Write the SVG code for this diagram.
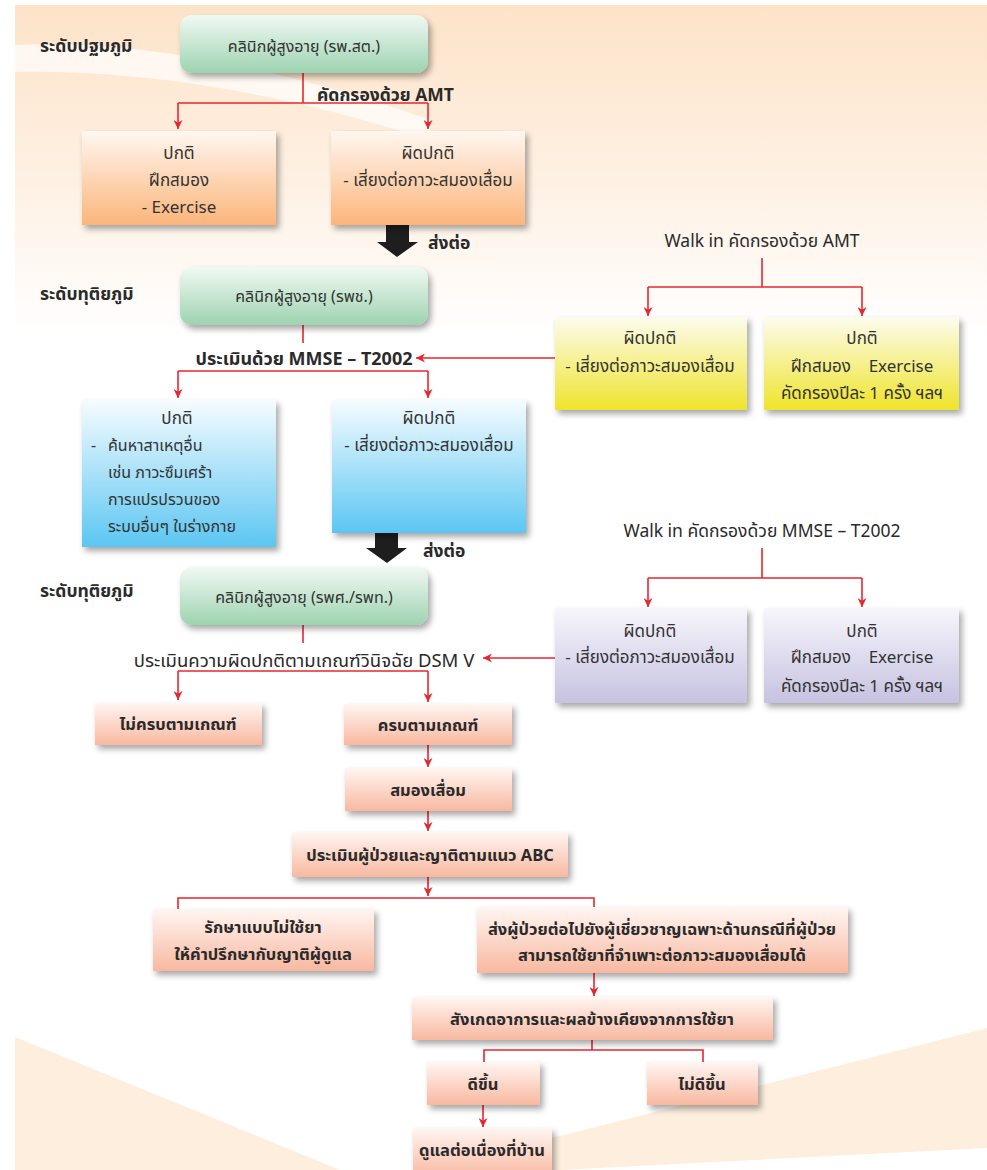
<svg xmlns="http://www.w3.org/2000/svg" width="987" height="1170" viewBox="0 0 987 1170">
  <defs>
    <linearGradient id="bgTop" x1="0" y1="0" x2="0" y2="1">
      <stop offset="0" stop-color="#fde3c8"/>
      <stop offset="0.55" stop-color="#fef1e4"/>
      <stop offset="1" stop-color="#ffffff"/>
    </linearGradient>
    <linearGradient id="gGreen" x1="0" y1="0" x2="0" y2="1">
      <stop offset="0" stop-color="#f1f9f4"/>
      <stop offset="1" stop-color="#9dd3b0"/>
    </linearGradient>
    <linearGradient id="gOrange" x1="0" y1="0" x2="0" y2="1">
      <stop offset="0" stop-color="#fff7f0"/>
      <stop offset="1" stop-color="#fbb57b"/>
    </linearGradient>
    <linearGradient id="gBlue" x1="0" y1="0" x2="0" y2="1">
      <stop offset="0" stop-color="#f6fcff"/>
      <stop offset="1" stop-color="#5bc6f2"/>
    </linearGradient>
    <linearGradient id="gYellow" x1="0" y1="0" x2="0" y2="1">
      <stop offset="0" stop-color="#fcfcee"/>
      <stop offset="1" stop-color="#efe42b"/>
    </linearGradient>
    <linearGradient id="gLav" x1="0" y1="0" x2="0" y2="1">
      <stop offset="0" stop-color="#f7f6fb"/>
      <stop offset="1" stop-color="#c6c2e1"/>
    </linearGradient>
    <linearGradient id="gSalmon" x1="0" y1="0" x2="0" y2="1">
      <stop offset="0" stop-color="#fff6f2"/>
      <stop offset="1" stop-color="#f8b8a0"/>
    </linearGradient>
    <filter id="shadow" x="-10%" y="-10%" width="130%" height="140%">
      <feDropShadow dx="3" dy="4" stdDeviation="3" flood-color="#000" flood-opacity="0.35"/>
    </filter>
    <marker id="arrow" viewBox="0 0 10 10" refX="10" refY="5" markerWidth="9" markerHeight="9" markerUnits="userSpaceOnUse" orient="auto">
      <path d="M0,0 L10,5 L0,10 L3,5 Z" fill="#e8262f"/>
    </marker>
    <style>
      text { font-family: "Noto Sans Thai", "Noto Sans", "DejaVu Sans", sans-serif; fill: #333; }
      .c { font-size: 16px; text-anchor: middle; }
      .t { font-size: 17px; text-anchor: middle; }
      .tl { font-size: 16px; }
      .b { font-size: 16.5px; text-anchor: middle; font-weight: bold; fill: #2a2a2a; }
      .lvl { font-size: 17.5px; font-weight: bold; fill: #2a2a2a; }
      .lab { font-size: 17.5px; font-weight: bold; fill: #2a2a2a; }
      .labm { font-size: 18px; font-weight: bold; fill: #2a2a2a; text-anchor: middle; }
      .labc { font-size: 17.5px; text-anchor: middle; fill: #2a2a2a; }
      .labr { font-size: 18.5px; text-anchor: middle; fill: #2a2a2a; }
      .ln { stroke: #e8262f; stroke-width: 1.6; fill: none; }
      .box { filter: url(#shadow); }
    </style>
  </defs>

  <!-- page background -->
  <rect x="0" y="0" width="987" height="1170" fill="#ffffff"/>
  <rect x="15" y="5" width="972" height="330" fill="url(#bgTop)"/>
  <path d="M15,45 C120,40 260,60 430,120 L430,140 C260,85 120,70 15,72 Z" fill="#ffffff" opacity="0.7"/>
  <path d="M15,1037 L340,1170 L15,1170 Z" fill="#fdeede"/>
  <path d="M552,1138 L987,1028 L987,1148 L560,1170 L540,1170 Z" fill="#fdeede"/>

  <!-- level labels -->
  <text class="lvl" x="40" y="52">ระดับปฐมภูมิ</text>
  <text class="lvl" x="40" y="300">ระดับทุติยภูมิ</text>
  <text class="lvl" x="40" y="597">ระดับทุติยภูมิ</text>

  <!-- connectors -->
  <g id="connectors">
    <path class="ln" d="M303,73 V103"/>
    <path class="ln" d="M178,103 H428"/>
    <path class="ln" d="M178,103 V129" marker-end="url(#arrow)"/>
    <path class="ln" d="M428,103 V129" marker-end="url(#arrow)"/>

    <path class="ln" d="M303,325 V343"/>
    <path class="ln" d="M178,371 H428"/>
    <path class="ln" d="M178,371 V398" marker-end="url(#arrow)"/>
    <path class="ln" d="M428,371 V398" marker-end="url(#arrow)"/>
    <path class="ln" d="M555,358 H416" marker-end="url(#arrow)"/>

    <path class="ln" d="M762,258 V287"/>
    <path class="ln" d="M648,287 H862"/>
    <path class="ln" d="M648,287 V316" marker-end="url(#arrow)"/>
    <path class="ln" d="M862,287 V316" marker-end="url(#arrow)"/>

    <path class="ln" d="M762,548 V578"/>
    <path class="ln" d="M648,578 H862"/>
    <path class="ln" d="M648,578 V607" marker-end="url(#arrow)"/>
    <path class="ln" d="M862,578 V607" marker-end="url(#arrow)"/>

    <path class="ln" d="M303,625 V643"/>
    <path class="ln" d="M178,671 H428"/>
    <path class="ln" d="M178,671 V700" marker-end="url(#arrow)"/>
    <path class="ln" d="M428,671 V702" marker-end="url(#arrow)"/>
    <path class="ln" d="M555,658 H483" marker-end="url(#arrow)"/>

    <path class="ln" d="M428,745 V767" marker-end="url(#arrow)"/>
    <path class="ln" d="M428,811 V831" marker-end="url(#arrow)"/>
    <path class="ln" d="M428,877 V896" marker-end="url(#arrow)"/>
    <path class="ln" d="M178,909 V898 H594 V907"/>
    <path class="ln" d="M594,973 V996" marker-end="url(#arrow)"/>
    <path class="ln" d="M592,1040 V1050"/>
    <path class="ln" d="M484,1062 V1050 H703 V1062"/>
    <path class="ln" d="M483,1105 V1127" marker-end="url(#arrow)"/>

    <!-- referral arrows -->
    <path d="M386,225 H409 V242 H418 L397,257 L377,242 H386 Z" fill="#1e1e1e"/>
    <path d="M375,533 H398 V548 H407 L387,563 L366,548 H375 Z" fill="#1e1e1e"/>
  </g>

  <!-- connector labels -->
  <text class="lab" x="317" y="101">คัดกรองด้วย AMT</text>
  <text class="lab" x="428" y="249">ส่งต่อ</text>
  <text class="labm" x="304" y="365">ประเมินด้วย MMSE – T2002</text>
  <text class="lab" x="423" y="557">ส่งต่อ</text>
  <text class="labr" x="304" y="667">ประเมินความผิดปกติตามเกณฑ์วินิจฉัย DSM V</text>
  <text class="labc" x="762" y="247">Walk in คัดกรองด้วย AMT</text>
  <text class="labc" x="762" y="537">Walk in คัดกรองด้วย MMSE – T2002</text>

  <!-- primary clinic -->
  <g id="clinic-primary">
    <rect class="box" x="180" y="15" width="248" height="58" rx="12" fill="url(#gGreen)"/>
    <text class="c" x="304" y="52">คลินิกผู้สูงอายุ (รพ.สต.)</text>
  </g>
  <g id="amt-normal">
    <rect class="box" x="82" y="131" width="194" height="94" fill="url(#gOrange)"/>
    <text class="t" x="179" y="159">ปกติ</text>
    <text class="t" x="179" y="186">ฝึกสมอง</text>
    <text class="t" x="179" y="213">- Exercise</text>
  </g>
  <g id="amt-abnormal">
    <rect class="box" x="331" y="131" width="194" height="94" fill="url(#gOrange)"/>
    <text class="t" x="428" y="159">ผิดปกติ</text>
    <text class="t" x="428" y="186">- เสี่ยงต่อภาวะสมองเสื่อม</text>
  </g>

  <!-- community hospital clinic -->
  <g id="clinic-community">
    <rect class="box" x="180" y="267" width="248" height="58" rx="12" fill="url(#gGreen)"/>
    <text class="c" x="304" y="302">คลินิกผู้สูงอายุ (รพช.)</text>
  </g>
  <g id="mmse-normal">
    <rect class="box" x="82" y="400" width="194" height="147" fill="url(#gBlue)"/>
    <text class="t" x="177" y="424">ปกติ</text>
    <text class="tl" x="91" y="451">-</text>
    <text class="tl" x="108" y="451">ค้นหาสาเหตุอื่น</text>
    <text class="tl" x="108" y="478">เช่น ภาวะซึมเศร้า</text>
    <text class="tl" x="108" y="505">การแปรปรวนของ</text>
    <text class="tl" x="108" y="532">ระบบอื่นๆ ในร่างกาย</text>
  </g>
  <g id="mmse-abnormal">
    <rect class="box" x="332" y="400" width="194" height="133" fill="url(#gBlue)"/>
    <text class="t" x="429" y="424">ผิดปกติ</text>
    <text class="t" x="429" y="451">- เสี่ยงต่อภาวะสมองเสื่อม</text>
  </g>

  <!-- walk-in AMT -->
  <g id="walkin-amt-abnormal">
    <rect class="box" x="555" y="317" width="192" height="93" fill="url(#gYellow)"/>
    <text class="t" x="650" y="344">ผิดปกติ</text>
    <text class="t" x="650" y="372">- เสี่ยงต่อภาวะสมองเสื่อม</text>
  </g>
  <g id="walkin-amt-normal">
    <rect class="box" x="764" y="317" width="195" height="93" fill="url(#gYellow)"/>
    <text class="t" x="862" y="344">ปกติ</text>
    <text class="t" x="862" y="372" xml:space="preserve">ฝึกสมอง    Exercise</text>
    <text class="t" x="862" y="399">คัดกรองปีละ 1 ครั้ง ฯลฯ</text>
  </g>

  <!-- regional hospital clinic -->
  <g id="clinic-regional">
    <rect class="box" x="180" y="567" width="248" height="58" rx="12" fill="url(#gGreen)"/>
    <text class="c" x="304" y="603">คลินิกผู้สูงอายุ (รพศ./รพท.)</text>
  </g>

  <!-- walk-in MMSE -->
  <g id="walkin-mmse-abnormal">
    <rect class="box" x="555" y="608" width="192" height="95" fill="url(#gLav)"/>
    <text class="t" x="650" y="637">ผิดปกติ</text>
    <text class="t" x="650" y="663">- เสี่ยงต่อภาวะสมองเสื่อม</text>
  </g>
  <g id="walkin-mmse-normal">
    <rect class="box" x="764" y="608" width="195" height="95" fill="url(#gLav)"/>
    <text class="t" x="862" y="637">ปกติ</text>
    <text class="t" x="862" y="663" xml:space="preserve">ฝึกสมอง    Exercise</text>
    <text class="t" x="862" y="692">คัดกรองปีละ 1 ครั้ง ฯลฯ</text>
  </g>

  <!-- diagnosis and care path -->
  <g id="not-meet">
    <rect class="box" x="95" y="703" width="167" height="42" fill="url(#gSalmon)"/>
    <text class="b" x="178" y="730">ไม่ครบตามเกณฑ์</text>
  </g>
  <g id="meet">
    <rect class="box" x="344" y="704" width="168" height="41" fill="url(#gSalmon)"/>
    <text class="b" x="428" y="731">ครบตามเกณฑ์</text>
  </g>
  <g id="dementia">
    <rect class="box" x="345" y="768" width="167" height="43" fill="url(#gSalmon)"/>
    <text class="b" x="428" y="796">สมองเสื่อม</text>
  </g>
  <g id="abc">
    <rect class="box" x="292" y="832" width="276" height="45" fill="url(#gSalmon)"/>
    <text class="b" x="430" y="861">ประเมินผู้ป่วยและญาติตามแนว ABC</text>
  </g>
  <g id="non-drug">
    <rect class="box" x="153" y="909" width="221" height="62" fill="url(#gSalmon)"/>
    <text class="b" x="263" y="933">รักษาแบบไม่ใช้ยา</text>
    <text class="b" x="263" y="960">ให้คำปรึกษากับญาติผู้ดูแล</text>
  </g>
  <g id="specialist">
    <rect class="box" x="477" y="907" width="371" height="66" fill="url(#gSalmon)"/>
    <text class="b" x="662" y="935">ส่งผู้ป่วยต่อไปยังผู้เชี่ยวชาญเฉพาะด้านกรณีที่ผู้ป่วย</text>
    <text class="b" x="662" y="961">สามารถใช้ยาที่จำเพาะต่อภาวะสมองเสื่อมได้</text>
  </g>
  <g id="observe">
    <rect class="box" x="412" y="997" width="361" height="43" fill="url(#gSalmon)"/>
    <text class="b" x="592" y="1025">สังเกตอาการและผลข้างเคียงจากการใช้ยา</text>
  </g>
  <g id="improved">
    <rect class="box" x="427" y="1062" width="113" height="43" fill="url(#gSalmon)"/>
    <text class="b" x="483" y="1090">ดีขึ้น</text>
  </g>
  <g id="not-improved">
    <rect class="box" x="647" y="1062" width="111" height="43" fill="url(#gSalmon)"/>
    <text class="b" x="702" y="1090">ไม่ดีขึ้น</text>
  </g>
  <g id="home-care">
    <rect class="box" x="413" y="1128" width="139" height="50" fill="url(#gSalmon)"/>
    <text class="b" x="482" y="1156">ดูแลต่อเนื่องที่บ้าน</text>
  </g>
</svg>
